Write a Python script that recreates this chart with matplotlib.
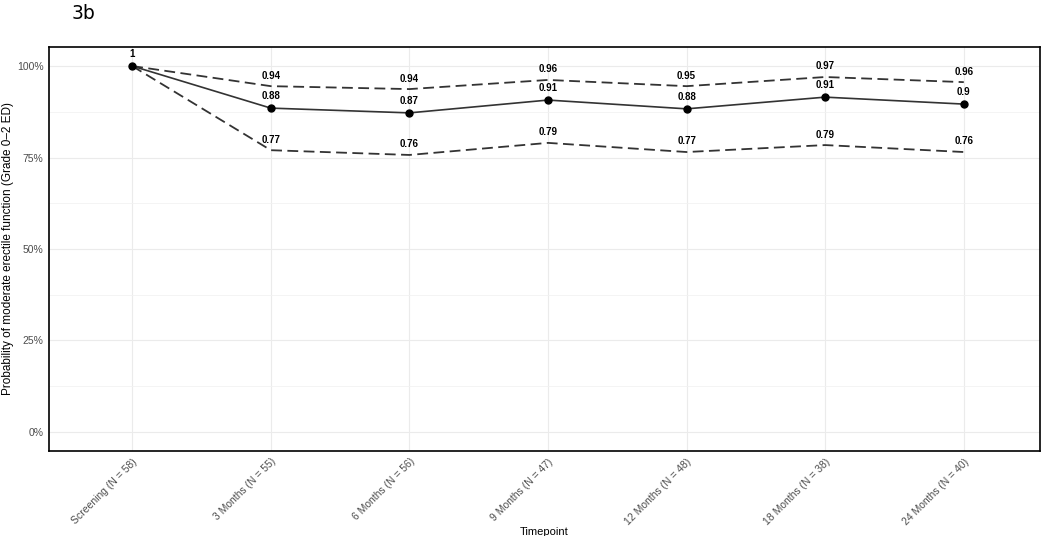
import numpy as np
import matplotlib.pyplot as plt
from matplotlib.ticker import FixedLocator

plt.rcParams['font.family'] = ['Liberation Sans', 'DejaVu Sans']

timepoints = ["Screening (N = 58)", "3 Months (N = 55)", "6 Months (N = 56)",
              "9 Months (N = 47)", "12 Months (N = 48)", "18 Months (N = 38)",
              "24 Months (N = 40)"]
est = [1.0, 0.885, 0.872, 0.907, 0.883, 0.915, 0.896]
upper = [1.0, 0.945, 0.937, 0.962, 0.945, 0.970, 0.956]
lower = [1.0, 0.770, 0.757, 0.790, 0.765, 0.784, 0.765]
est_lab = ["1", "0.88", "0.87", "0.91", "0.88", "0.91", "0.9"]
upper_lab = ["", "0.94", "0.94", "0.96", "0.95", "0.97", "0.96"]
lower_lab = ["", "0.77", "0.76", "0.79", "0.77", "0.79", "0.76"]

fig = plt.figure(figsize=(10.5, 5.36), dpi=100)
ax = fig.add_axes([0.0467, 0.1586, 0.9438, 0.7537])

x = np.arange(len(timepoints))
ax.plot(x, upper, color="#333333", lw=1.3, ls=(0, (6, 3)))
ax.plot(x, lower, color="#333333", lw=1.3, ls=(0, (6, 3)))
ax.plot(x, est, color="#333333", lw=1.2, marker="o", ms=5,
        mfc="black", mec="black")

# value labels above each point
for xi, yi, t in zip(x, est, est_lab):
    ax.annotate(t, (xi, yi), xytext=(0, 5), textcoords="offset points",
                ha="center", va="bottom", fontsize=7, fontweight="bold")
for xi, yi, t in zip(x, upper, upper_lab):
    ax.annotate(t, (xi, yi), xytext=(0, 4), textcoords="offset points",
                ha="center", va="bottom", fontsize=7, fontweight="bold")
for xi, yi, t in zip(x, lower, lower_lab):
    ax.annotate(t, (xi, yi), xytext=(0, 4), textcoords="offset points",
                ha="center", va="bottom", fontsize=7, fontweight="bold")

ax.set_xlim(-0.6, 6.55)
ax.set_ylim(-0.052, 1.052)
ax.set_xticks(x)
ax.set_xticklabels(timepoints, rotation=45, ha="right", rotation_mode="anchor",
                   fontsize=7.5, color="#4d4d4d")
ax.set_yticks([0, 0.25, 0.5, 0.75, 1.0])
ax.set_yticklabels(["0%", "25%", "50%", "75%", "100%"], fontsize=7.5, color="#4d4d4d")
ax.yaxis.set_minor_locator(FixedLocator([0.125, 0.375, 0.625, 0.875]))
ax.tick_params(axis="both", which="both", length=0, pad=4)
ax.grid(True, which="major", color="#ebebeb", lw=0.8)
ax.grid(True, which="minor", axis="y", color="#f2f2f2", lw=0.6)
ax.set_axisbelow(True)
for s in ax.spines.values():
    s.set_color("black")
    s.set_linewidth(1.2)

ax.set_xlabel("Timepoint", fontsize=8, labelpad=0)
ax.set_ylabel("Probability of moderate erectile function (Grade 0\u20132 ED)",
              fontsize=8.5, labelpad=2)

fig.text(0.0686, 0.993, "3b", fontsize=13.5, ha="left", va="top",
         family=["DejaVu Sans"])

fig.savefig("out.png", dpi=100)
